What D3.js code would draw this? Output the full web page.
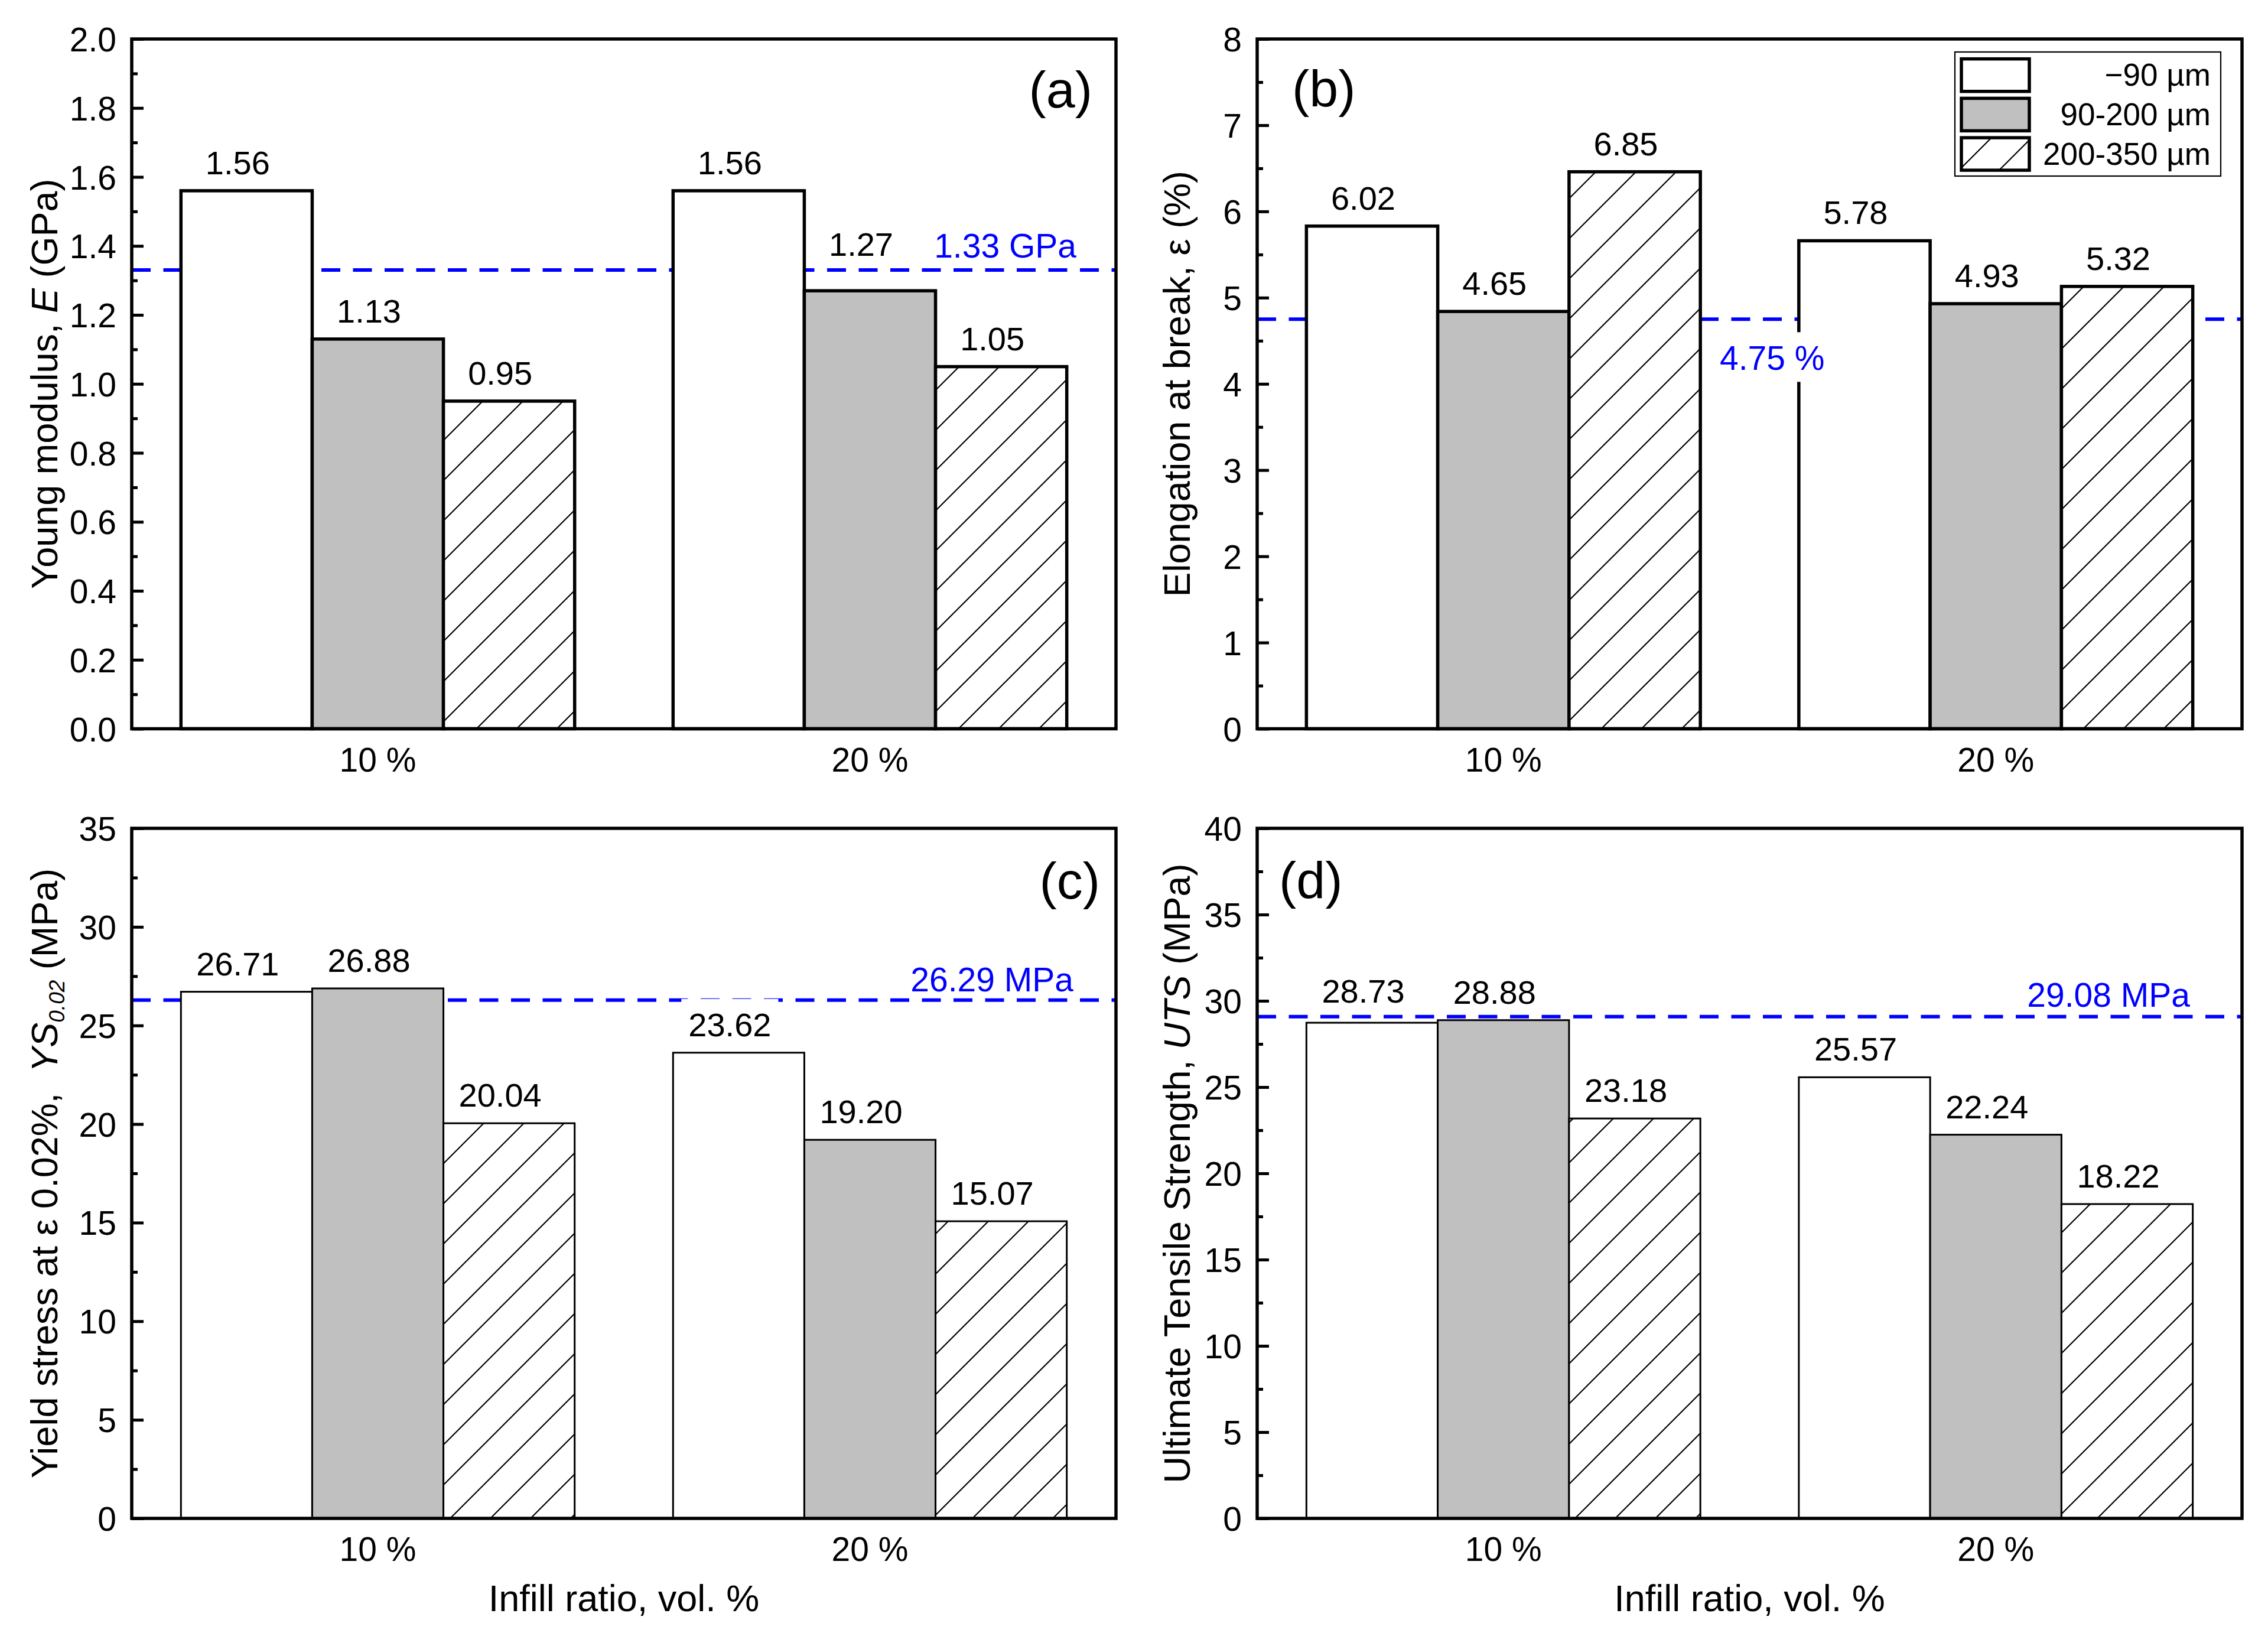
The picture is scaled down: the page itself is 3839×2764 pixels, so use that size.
<!DOCTYPE html>
<html>
<head>
<meta charset="utf-8">
<script src="https://cdn.jsdelivr.net/npm/d3@7"></script>
<style>
  html, body { margin: 0; padding: 0; background: #fff; }
  svg { display: block; }
  text { font-family: "Liberation Sans", Arial, Helvetica, sans-serif; }
</style>
</head>
<body>
<svg id="chart" width="3839" height="2764"></svg>
<script>
// ---------------- DATA ----------------
const categories = ["10 %", "20 %"];
const seriesNames = ["\u221290 \u00b5m", "90-200 \u00b5m", "200-350 \u00b5m"];

// (a) Young modulus
const modulusValues = [[1.56, 1.13, 0.95], [1.56, 1.27, 1.05]];
const modulusLabels = [["1.56", "1.13", "0.95"], ["1.56", "1.27", "1.05"]];
const modulusRef = 1.33;
const modulusRefLabel = "1.33 GPa";
const modulusTicks = [0, 0.2, 0.4, 0.6, 0.8, 1.0, 1.2, 1.4, 1.6, 1.8, 2.0];

// (b) Elongation at break (bar heights as drawn, labels as printed)
const elongationValues = [[5.83, 4.84, 6.46], [5.66, 4.93, 5.13]];
const elongationLabels = [["6.02", "4.65", "6.85"], ["5.78", "4.93", "5.32"]];
const elongationRef = 4.75;
const elongationRefLabel = "4.75 %";
const elongationTicks = [0, 1, 2, 3, 4, 5, 6, 7, 8];

// (c) Yield stress
const yieldValues = [[26.71, 26.88, 20.04], [23.62, 19.20, 15.07]];
const yieldLabels = [["26.71", "26.88", "20.04"], ["23.62", "19.20", "15.07"]];
const yieldRef = 26.29;
const yieldRefLabel = "26.29 MPa";
const yieldTicks = [0, 5, 10, 15, 20, 25, 30, 35];

// (d) Ultimate tensile strength
const utsValues = [[28.73, 28.88, 23.18], [25.57, 22.24, 18.22]];
const utsLabels = [["28.73", "28.88", "23.18"], ["25.57", "22.24", "18.22"]];
const utsRef = 29.08;
const utsRefLabel = "29.08 MPa";
const utsTicks = [0, 5, 10, 15, 20, 25, 30, 35, 40];

const xAxisTitle = "Infill ratio, vol. %";

// ---------------- LAYOUT / STYLE ----------------
const fills = ["#ffffff", "#c0c0c0", "url(#hatch)"];
const BLUE = "#0000ff";

const panels = [
  { id: "a", values: modulusValues, labels: modulusLabels, ref: modulusRef, refLabel: modulusRefLabel,
    ticks: modulusTicks, fmt: d3.format(".1f"),
    title: [["Young modulus, ", ""], ["E", "italic"], [" (GPa)", ""]],
    box: { x0: 223, x1: 1889, y0: 66, y1: 1233.5 }, barStroke: 5.5, titleX: 97,
    panelLabel: { text: "(a)", x: 1849, y: 182, anchor: "end" },
    refPos: { x: 1822, dy: -21, anchor: "end" }, xTitle: false, legend: false },
  { id: "b", values: elongationValues, labels: elongationLabels, ref: elongationRef, refLabel: elongationRefLabel,
    ticks: elongationTicks, fmt: d3.format("d"),
    title: [["Elongation at break, \u03b5 (%)", ""]],
    box: { x0: 2128, x1: 3795, y0: 66, y1: 1233.5 }, barStroke: 5.5, titleX: 2014,
    panelLabel: { text: "(b)", x: 2187, y: 180, anchor: "start" },
    refPos: { x: 2911, dy: 86, anchor: "start" }, xTitle: false, legend: true },
  { id: "c", values: yieldValues, labels: yieldLabels, ref: yieldRef, refLabel: yieldRefLabel,
    ticks: yieldTicks, fmt: d3.format("d"),
    title: [["Yield stress at \u03b5 0.02%,  ", ""], ["YS", "italic"], ["0.02", "sub"], [" (MPa)", ""]],
    box: { x0: 223, x1: 1889, y0: 1402, y1: 2570 }, barStroke: 3, titleX: 97,
    panelLabel: { text: "(c)", x: 1862, y: 1521, anchor: "end" },
    refPos: { x: 1817, dy: -15, anchor: "end" }, xTitle: true, legend: false },
  { id: "d", values: utsValues, labels: utsLabels, ref: utsRef, refLabel: utsRefLabel,
    ticks: utsTicks, fmt: d3.format("d"),
    title: [["Ultimate Tensile Strength, ", ""], ["UTS", "italic"], [" (MPa)", ""]],
    box: { x0: 2128, x1: 3795, y0: 1402, y1: 2570 }, barStroke: 3, titleX: 2014,
    panelLabel: { text: "(d)", x: 2165, y: 1520, anchor: "start" },
    refPos: { x: 3707, dy: -17, anchor: "end" }, xTitle: true, legend: false }
];

const svg = d3.select("#chart");
svg.append("rect").attr("width", 3839).attr("height", 2764).attr("fill", "#fff");

// hatch pattern
const defs = svg.append("defs");
const P = 68;
const pat = defs.append("pattern").attr("id", "hatch")
  .attr("patternUnits", "userSpaceOnUse").attr("width", P).attr("height", P);
pat.append("rect").attr("width", P).attr("height", P).attr("fill", "#fff");
pat.append("path")
  .attr("d", `M0,${P} L${P},0 M${-P/2},${P/2} L${P/2},${-P/2} M${P/2},${P*1.5} L${P*1.5},${P/2}`)
  .attr("stroke", "#000").attr("stroke-width", 2.2).attr("fill", "none");

panels.forEach(p => {
  const b = p.box;
  const g = svg.append("g");
  const domainMax = p.ticks[p.ticks.length - 1];
  const y = d3.scaleLinear().domain([0, domainMax]).range([b.y1, b.y0]);
  const x = d3.scaleBand().domain(categories).range([b.x0, b.x1]).paddingInner(0.2).paddingOuter(0.1);
  const xs = d3.scaleBand().domain(d3.range(seriesNames.length)).range([0, x.bandwidth()]);

  // reference dashed line
  const refY = y(p.ref);
  g.append("line")
    .attr("x1", b.x0).attr("x2", b.x1).attr("y1", refY).attr("y2", refY)
    .attr("stroke", BLUE).attr("stroke-width", 6).attr("stroke-dasharray", "32 21.5");

  // bars
  const barData = [];
  categories.forEach((c, ci) => {
    p.values[ci].forEach((v, si) => barData.push({ c, ci, si, v, label: p.labels[ci][si] }));
  });
  g.selectAll("rect.bar").data(barData).join("rect").attr("class", "bar")
    .attr("x", d => x(d.c) + xs(d.si))
    .attr("width", xs.bandwidth())
    .attr("y", d => y(d.v))
    .attr("height", d => y(0) - y(d.v))
    .attr("fill", d => fills[d.si])
    .attr("stroke", "#000").attr("stroke-width", p.barStroke);

  // frame
  g.append("rect").attr("x", b.x0).attr("y", b.y0)
    .attr("width", b.x1 - b.x0).attr("height", b.y1 - b.y0)
    .attr("fill", "none").attr("stroke", "#000").attr("stroke-width", 5.5);

  // y axis: major ticks inward with labels
  const yAxis = d3.axisLeft(y).tickValues(p.ticks).tickFormat(p.fmt).tickSize(-20).tickPadding(26);
  const ya = g.append("g").attr("transform", `translate(${b.x0},0)`).call(yAxis);
  ya.select(".domain").remove();
  ya.selectAll(".tick line").attr("stroke", "#000").attr("stroke-width", 5);
  ya.selectAll(".tick text").attr("font-size", 57).attr("fill", "#000")
    .attr("dy", "0.36em").attr("font-family", "'Liberation Sans', Arial, sans-serif");

  // minor ticks
  const minors = d3.pairs(p.ticks).map(([a, c]) => (a + c) / 2);
  const yMinor = d3.axisLeft(y).tickValues(minors).tickFormat("").tickSize(-10);
  const ym = g.append("g").attr("transform", `translate(${b.x0},0)`).call(yMinor);
  ym.select(".domain").remove();
  ym.selectAll(".tick line").attr("stroke", "#000").attr("stroke-width", 5);

  // x tick labels (no tick marks)
  g.selectAll("text.xlab").data(categories).join("text").attr("class", "xlab")
    .attr("x", d => x(d) + x.bandwidth() / 2)
    .attr("y", b.y1 + 72)
    .attr("text-anchor", "middle").attr("font-size", 57).text(d => d);

  // y axis title
  const yt = g.append("text")
    .attr("transform", `translate(${p.titleX},${(b.y0 + b.y1) / 2}) rotate(-90)`)
    .attr("text-anchor", "middle").attr("font-size", 63);
  p.title.forEach(([t, style]) => {
    const ts = yt.append("tspan").text(t).style("white-space", "pre");
    if (style === "italic") ts.attr("font-style", "italic");
    if (style === "sub") {
      ts.attr("font-style", "italic").attr("font-size", 37).attr("dy", 12);
    }
  });
  // restore baseline after subscript
  yt.selectAll("tspan").each(function(d, i, nodes) {
    if (i > 0 && p.title[i - 1][1] === "sub") d3.select(this).attr("dy", -12);
  });

  // x axis title
  if (p.xTitle) {
    g.append("text").attr("x", (b.x0 + b.x1) / 2).attr("y", 2727)
      .attr("text-anchor", "middle").attr("font-size", 63).text(xAxisTitle);
  }

  // value labels with white boxes
  const labG = g.append("g");
  barData.forEach(d => {
    const cx = x(d.c) + xs(d.si) + xs.bandwidth() / 2 - 15;
    let base = y(d.v) - 28;
    if (refY > base - 45 && refY < base + 22) base = refY - 24;
    const lg = labG.append("g");
    const bg = lg.append("rect").attr("fill", "#fff");
    const t = lg.append("text").attr("x", cx).attr("y", base)
      .attr("text-anchor", "middle").attr("font-size", 56).text(d.label);
    const bb = t.node().getBBox();
    bg.attr("x", bb.x - 12).attr("y", bb.y - 12).attr("width", bb.width + 24).attr("height", bb.height + 14);
  });

  // reference label
  const rg = g.append("g");
  const rbg = rg.append("rect").attr("fill", "#fff");
  const rt = rg.append("text").attr("x", p.refPos.x).attr("y", refY + p.refPos.dy)
    .attr("text-anchor", p.refPos.anchor).attr("font-size", 57).attr("fill", BLUE).text(p.refLabel);
  if (p.refPos.dy > 0) {
    const bb = rt.node().getBBox();
    rbg.attr("x", bb.x - 12).attr("y", bb.y - 12).attr("width", bb.width + 24).attr("height", bb.height + 20);
  }

  // panel label
  g.append("text").attr("x", p.panelLabel.x).attr("y", p.panelLabel.y)
    .attr("text-anchor", p.panelLabel.anchor).attr("font-size", 88).text(p.panelLabel.text);

  // legend
  if (p.legend) {
    const lg = g.append("g");
    lg.append("rect").attr("x", 3309).attr("y", 88).attr("width", 450).attr("height", 210)
      .attr("fill", "#fff").attr("stroke", "#000").attr("stroke-width", 2.2);
    const rowY = d3.scaleLinear().domain([0, 1]).range([99.7, 166.4]);
    seriesNames.forEach((n, i) => {
      lg.append("rect").attr("x", 3320).attr("y", rowY(i)).attr("width", 115).attr("height", 55)
        .attr("fill", fills[i]).attr("stroke", "#000").attr("stroke-width", 5.5);
      lg.append("text").attr("x", 3742).attr("y", rowY(i) + 45.5)
        .attr("text-anchor", "end").attr("font-size", 53).text(n);
    });
  }
});
</script>
</body>
</html>
